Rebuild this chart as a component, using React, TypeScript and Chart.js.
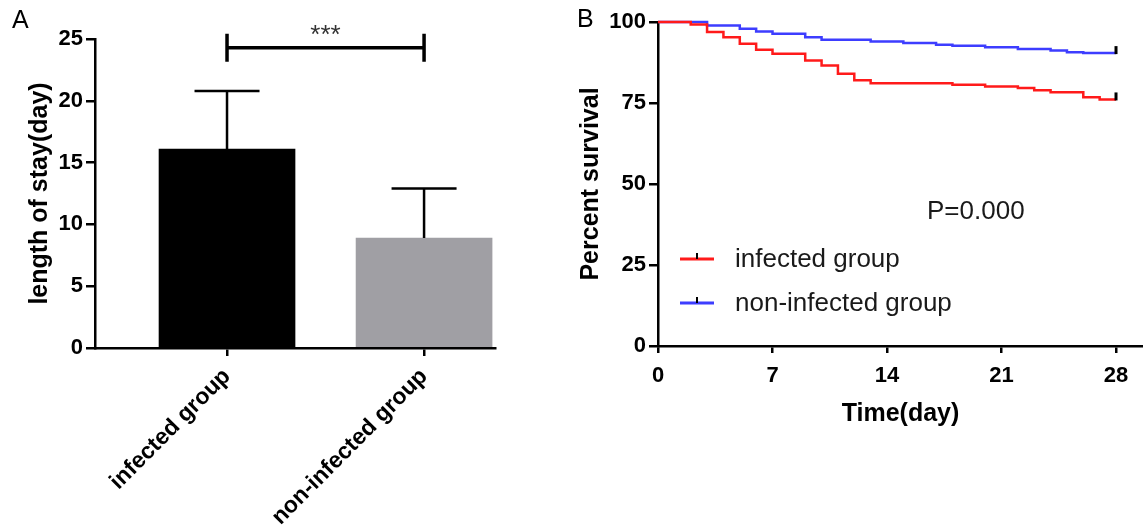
import React, { useEffect, useRef } from "react";
import { Chart, registerables } from "chart.js";

Chart.register(...registerables);

const FONT = '"Liberation Sans", Arial, Helvetica, sans-serif';

// ---------- Panel A data ----------
const barCategories = ["infected group", "non-infected group"];
const barMeans = [16.1, 8.9];
const barUpperErrors = [20.8, 12.9];
const barColors = ["#000000", "#a09fa4"];
const barYTicks = [0, 5, 10, 15, 20, 25];
const significanceLevel = 24.3;
const significanceLabel = "***";

// ---------- Panel B data ----------
const infectedDays = [0, 2, 3, 4, 5, 6, 7, 9, 10, 11, 12, 13, 18, 20, 22, 23, 24, 26, 27, 28];
const infectedSurvival = [100, 99.2, 96.9, 95.3, 93.3, 91.4, 90.2, 88.1, 86.6, 84.0, 82.0, 81.1, 80.6, 80.1, 79.6, 78.9, 78.3, 76.8, 76.1, 76.1];
const nonInfectedDays = [0, 3, 5, 6, 7, 9, 10, 13, 15, 17, 18, 20, 22, 24, 25, 26, 28];
const nonInfectedSurvival = [100, 98.9, 97.9, 97.1, 96.4, 95.3, 94.5, 94.0, 93.5, 93.0, 92.7, 92.2, 91.7, 91.2, 90.7, 90.4, 90.4];
const survivalXTicks = [0, 7, 14, 21, 28];
const survivalYTicks = [0, 25, 50, 75, 100];
const seriesNames = ["infected group", "non-infected group"];
const seriesColors = ["#ff1a1a", "#3d3dff"];
const pValueText = "P=0.000";

const axisCommon = (tickLength: number) => ({
  border: { display: true, color: "#000", width: 2.5 },
  grid: {
    display: true,
    drawOnChartArea: false,
    drawTicks: true,
    tickLength,
    color: "#000",
    lineWidth: 2.5,
    offset: false,
  },
});

function PanelA() {
  const ref = useRef<HTMLCanvasElement | null>(null);
  useEffect(() => {
    if (!ref.current) return;
    const overlay = {
      id: "panelAOverlay",
      afterDatasetsDraw(chart: any) {
        const ctx = chart.ctx;
        const xs = chart.scales.x;
        const ys = chart.scales.y;
        ctx.save();
        ctx.strokeStyle = "#000";
        ctx.lineWidth = 2.5;
        barMeans.forEach((m, i) => {
          const px = xs.getPixelForValue(i);
          const y0 = ys.getPixelForValue(m);
          const y1 = ys.getPixelForValue(barUpperErrors[i]);
          ctx.beginPath();
          ctx.moveTo(px, y0);
          ctx.lineTo(px, y1);
          ctx.moveTo(px - 32.5, y1);
          ctx.lineTo(px + 32.5, y1);
          ctx.stroke();
        });
        const by = ys.getPixelForValue(significanceLevel);
        const x0 = xs.getPixelForValue(0);
        const x1 = xs.getPixelForValue(1);
        ctx.lineWidth = 3.5;
        ctx.beginPath();
        ctx.moveTo(x0, by);
        ctx.lineTo(x1, by);
        ctx.moveTo(x0, by - 14);
        ctx.lineTo(x0, by + 14);
        ctx.moveTo(x1, by - 14);
        ctx.lineTo(x1, by + 14);
        ctx.stroke();
        ctx.fillStyle = "#333";
        ctx.font = `26px ${FONT}`;
        ctx.textAlign = "center";
        ctx.textBaseline = "alphabetic";
        ctx.fillText(significanceLabel, (x0 + x1) / 2, by - 5);
        ctx.fillStyle = "#000";
        ctx.font = `25px ${FONT}`;
        ctx.textAlign = "left";
        ctx.fillText("A", 12, 28);
        ctx.restore();
      },
    };
    const chart = new Chart(ref.current, {
      type: "bar",
      data: {
        datasets: [
          {
            data: barMeans.map((v, i) => ({ x: i, y: v })),
            backgroundColor: barColors,
            barThickness: 136,
            borderWidth: 0,
          },
        ],
      },
      options: {
        animation: false,
        responsive: false,
        maintainAspectRatio: false,
        layout: { padding: { top: 39, right: 65, left: 0, bottom: 0 } },
        plugins: { legend: { display: false }, tooltip: { enabled: false } },
        scales: {
          x: {
            type: "linear",
            min: -0.67,
            max: 1.36,
            offset: false,
            ...axisCommon(8),
            afterBuildTicks: (s: any) => {
              s.ticks = barCategories.map((_, i) => ({ value: i }));
            },
            afterFit: (s: any) => {
              s.height = 179;
            },
            ticks: {
              autoSkip: false,
              minRotation: 45,
              maxRotation: 45,
              padding: 7,
              color: "#000",
              font: { family: FONT, size: 23, weight: "bold" },
              callback: (v: any) => barCategories[v] ?? "",
            },
          },
          y: {
            type: "linear",
            min: 0,
            max: 25,
            ...axisCommon(9),
            afterBuildTicks: (s: any) => {
              s.ticks = barYTicks.map((v) => ({ value: v }));
            },
            afterFit: (s: any) => {
              s.width = 95;
            },
            ticks: {
              padding: 3,
              color: "#000",
              font: { family: FONT, size: 22, weight: "bold" },
            },
            title: {
              display: true,
              text: "length of stay(day)",
              color: "#000",
              padding: { top: 25, bottom: 0 },
              font: { family: FONT, size: 25, weight: "bold" },
            },
          },
        },
      } as any,
      plugins: [overlay],
    });
    return () => chart.destroy();
  }, []);
  return <canvas ref={ref} width={560} height={527} style={{ width: 560, height: 527, display: "block" }} />;
}

function PanelB() {
  const ref = useRef<HTMLCanvasElement | null>(null);
  useEffect(() => {
    if (!ref.current) return;
    const overlay = {
      id: "panelBOverlay",
      afterDatasetsDraw(chart: any) {
        const ctx = chart.ctx;
        ctx.save();
        // censor marks at the end of each curve
        ctx.strokeStyle = "#000";
        ctx.lineWidth = 3;
        [0, 1].forEach((di) => {
          const meta = chart.getDatasetMeta(di);
          const el = meta.data[meta.data.length - 1];
          ctx.beginPath();
          ctx.moveTo(el.x, el.y + 1);
          ctx.lineTo(el.x, el.y - 7);
          ctx.stroke();
        });
        // legend
        const legendY = [259, 303];
        seriesNames.forEach((name, i) => {
          const y = legendY[i];
          ctx.strokeStyle = seriesColors[i];
          ctx.lineWidth = 3;
          ctx.beginPath();
          ctx.moveTo(120, y);
          ctx.lineTo(154, y);
          ctx.stroke();
          ctx.strokeStyle = "#000";
          ctx.lineWidth = 2;
          ctx.beginPath();
          ctx.moveTo(137, y - 6);
          ctx.lineTo(137, y);
          ctx.stroke();
          ctx.fillStyle = "#1a1a1a";
          ctx.font = `26px ${FONT}`;
          ctx.textAlign = "left";
          ctx.textBaseline = "middle";
          ctx.fillText(name, 175, y + 1);
        });
        ctx.fillText(pValueText, 367, 212);
        ctx.fillStyle = "#000";
        ctx.font = `25px ${FONT}`;
        ctx.textBaseline = "alphabetic";
        ctx.fillText("B", 17, 27);
        ctx.restore();
      },
    };
    const chart = new Chart(ref.current, {
      type: "line",
      data: {
        datasets: [
          {
            label: seriesNames[0],
            data: infectedDays.map((d, i) => ({ x: d, y: infectedSurvival[i] })),
            borderColor: seriesColors[0],
            borderWidth: 2.5,
            stepped: true,
            pointRadius: 0,
            fill: false,
            clip: false,
          },
          {
            label: seriesNames[1],
            data: nonInfectedDays.map((d, i) => ({ x: d, y: nonInfectedSurvival[i] })),
            borderColor: seriesColors[1],
            borderWidth: 2.5,
            stepped: true,
            pointRadius: 0,
            fill: false,
            clip: false,
          },
        ],
      },
      options: {
        animation: false,
        responsive: false,
        maintainAspectRatio: false,
        layout: { padding: { top: 22, right: 0, left: 0, bottom: 0 } },
        plugins: { legend: { display: false }, tooltip: { enabled: false } },
        scales: {
          x: {
            type: "linear",
            min: 0,
            max: 29.65,
            ...axisCommon(7),
            afterBuildTicks: (s: any) => {
              s.ticks = survivalXTicks.map((v) => ({ value: v }));
            },
            afterFit: (s: any) => {
              s.height = 181;
            },
            ticks: {
              autoSkip: false,
              maxRotation: 0,
              padding: 10,
              color: "#000",
              font: { family: FONT, size: 22, weight: "bold" },
            },
            title: {
              display: true,
              text: "Time(day)",
              color: "#000",
              padding: { top: 0, bottom: 98 },
              font: { family: FONT, size: 25, weight: "bold" },
            },
          },
          y: {
            type: "linear",
            min: 0,
            max: 100,
            ...axisCommon(9),
            afterBuildTicks: (s: any) => {
              s.ticks = survivalYTicks.map((v) => ({ value: v }));
            },
            afterFit: (s: any) => {
              s.width = 98;
            },
            ticks: {
              padding: 3,
              color: "#000",
              font: { family: FONT, size: 22, weight: "bold" },
            },
            title: {
              display: true,
              text: "Percent survival",
              color: "#000",
              padding: { top: 16, bottom: 0 },
              font: { family: FONT, size: 25, weight: "bold" },
            },
          },
        },
      } as any,
      plugins: [overlay],
    });
    return () => chart.destroy();
  }, []);
  return <canvas ref={ref} width={583} height={527} style={{ width: 583, height: 527, display: "block" }} />;
}

export default function App() {
  return (
    <div
      style={{
        position: "absolute",
        left: 0,
        top: 0,
        width: 1143,
        height: 527,
        display: "flex",
        background: "#fff",
        overflow: "hidden",
      }}
    >
      <PanelA />
      <PanelB />
    </div>
  );
}
